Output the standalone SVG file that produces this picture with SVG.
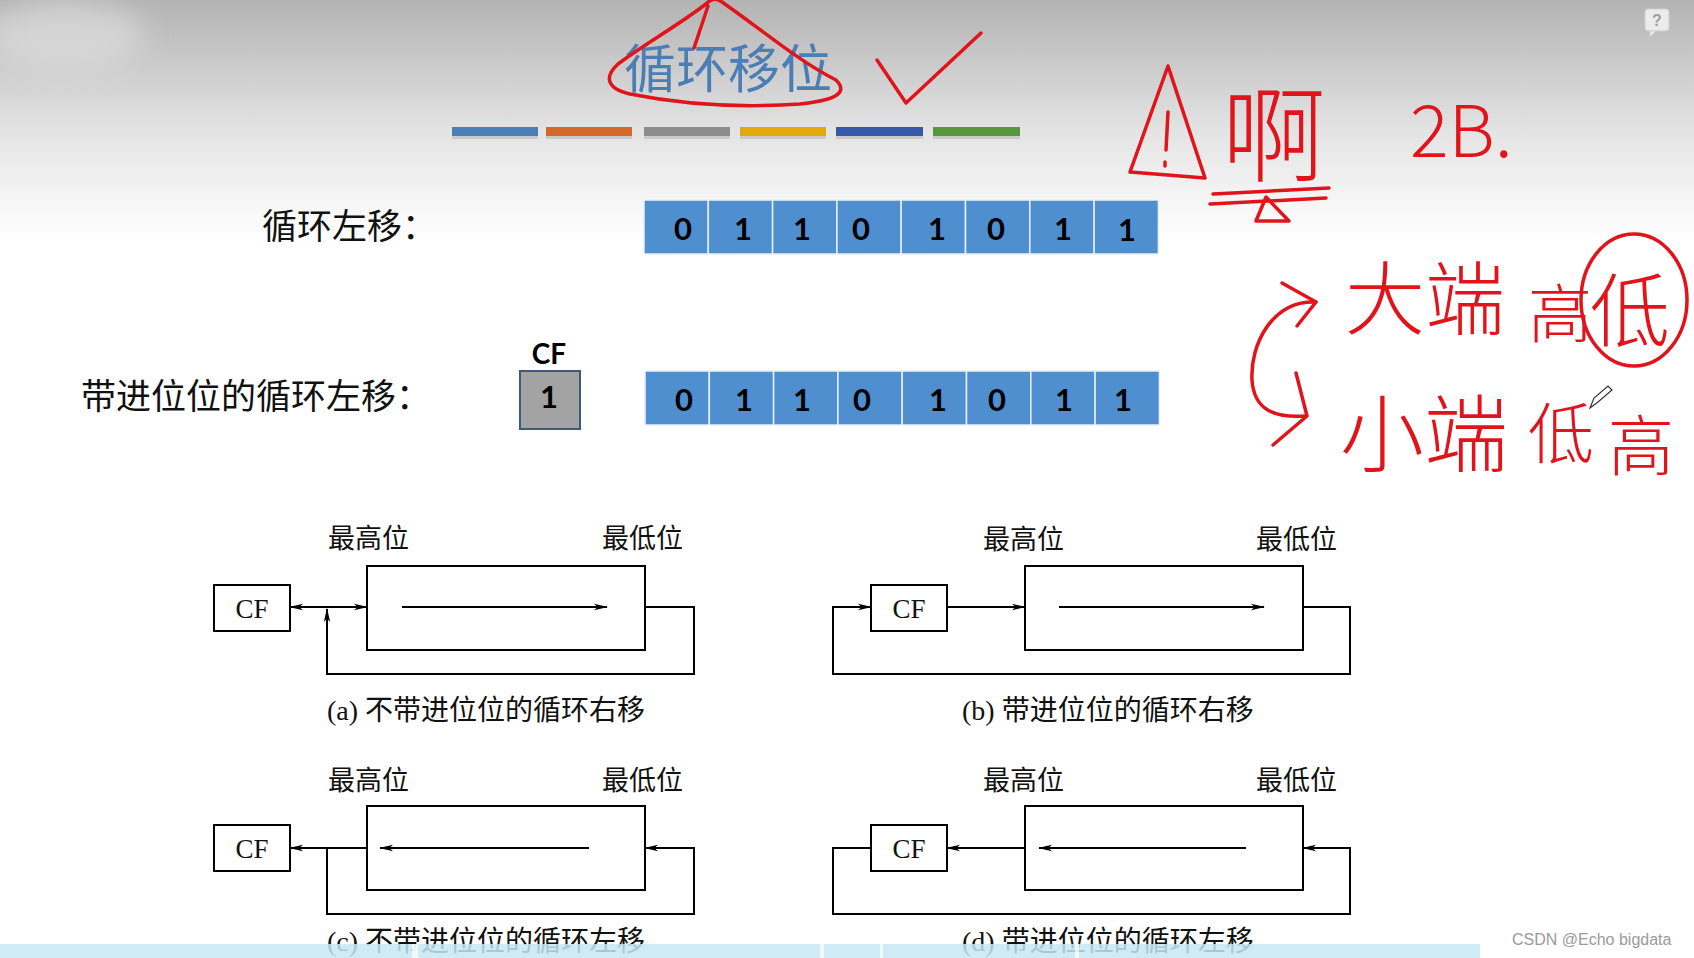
<svg xmlns="http://www.w3.org/2000/svg" width="1694" height="958" viewBox="0 0 1694 958">
<defs>
<linearGradient id="bg" x1="0" y1="0" x2="0" y2="1" gradientUnits="objectBoundingBox">
<stop offset="0" stop-color="#b3b3b3"/>
<stop offset="0.55" stop-color="#e4e4e4"/>
<stop offset="1" stop-color="#ffffff"/>
</linearGradient>
<filter id="blur" x="-50%" y="-50%" width="200%" height="200%"><feGaussianBlur stdDeviation="14"/></filter>
<marker id="ah" viewBox="0 0 14 8" markerWidth="14" markerHeight="8" refX="13" refY="4" orient="auto-start-reverse" markerUnits="userSpaceOnUse">
<path d="M0,0.8 L14,4 L0,7.2 L3.5,4 Z" fill="#000"/>
</marker>
<style>
.lbl{font-family:"Noto Sans CJK SC",sans-serif;font-size:35px;fill:#111}
.bit{fill:#4f8fd0;stroke:#e8f0f8;stroke-width:1.5}
.dig{font-family:Lato,"Liberation Sans",sans-serif;font-weight:700;font-size:31px;fill:#000;text-anchor:middle;dominant-baseline:central}
.box{fill:#fff;stroke:#000;stroke-width:2}
.ser{font-family:"Liberation Serif","Noto Sans CJK SC",serif;fill:#111}
.cap{font-size:28px}
.pos{font-size:27px}
.cf{font-size:27px;text-anchor:middle;dominant-baseline:central}
.ln{fill:none;stroke:#000;stroke-width:2}
.arr{marker-end:url(#ah)}
.red{fill:none;stroke:#e0141a;stroke-width:3.5;stroke-linecap:round;stroke-linejoin:round}
.hw{font-family:"Noto Sans CJK SC",sans-serif;font-weight:300;fill:#e0141a}
</style>
</defs>

<!-- background -->
<rect x="0" y="0" width="1694" height="240" fill="url(#bg)"/>
<rect x="0" y="240" width="1694" height="718" fill="#fff"/>
<ellipse cx="65" cy="35" rx="80" ry="35" fill="#e2e2e2" opacity="0.6" filter="url(#blur)"/>

<!-- title -->
<g id="title">
<text x="624" y="88" font-family="Noto Sans CJK SC,sans-serif" font-size="52" fill="#4a7eb4">循环移位</text>
<g id="bars">
<rect x="452" y="129" width="86" height="10" fill="#999" opacity="0.35"/>
<rect x="452" y="127" width="86" height="9" fill="#4a80b8"/>
<rect x="546" y="129" width="86" height="10" fill="#999" opacity="0.35"/>
<rect x="546" y="127" width="86" height="9" fill="#d4692a"/>
<rect x="644" y="129" width="86" height="10" fill="#999" opacity="0.35"/>
<rect x="644" y="127" width="86" height="9" fill="#8c8c8c"/>
<rect x="740" y="129" width="86" height="10" fill="#999" opacity="0.35"/>
<rect x="740" y="127" width="86" height="9" fill="#e2a80c"/>
<rect x="836" y="129" width="87" height="10" fill="#999" opacity="0.35"/>
<rect x="836" y="127" width="87" height="9" fill="#3459a8"/>
<rect x="933" y="129" width="87" height="10" fill="#999" opacity="0.35"/>
<rect x="933" y="127" width="87" height="9" fill="#5a973c"/>
</g>
</g>

<!-- row 1 -->
<g id="row1">
<text class="lbl" x="262" y="239">循环左移：</text>
<rect class="bit" x="644" y="200" width="64.3" height="54"/>
<rect class="bit" x="708.3" y="200" width="64.3" height="54"/>
<rect class="bit" x="772.6" y="200" width="64.3" height="54"/>
<rect class="bit" x="836.9" y="200" width="64.3" height="54"/>
<rect class="bit" x="901.2" y="200" width="64.3" height="54"/>
<rect class="bit" x="965.5" y="200" width="64.3" height="54"/>
<rect class="bit" x="1029.8" y="200" width="64.3" height="54"/>
<rect class="bit" x="1094.1" y="200" width="64.3" height="54"/>
<text class="dig" x="683" y="228">0</text>
<text class="dig" x="743" y="228">1</text>
<text class="dig" x="802" y="228">1</text>
<text class="dig" x="861" y="228">0</text>
<text class="dig" x="937" y="228">1</text>
<text class="dig" x="996" y="228">0</text>
<text class="dig" x="1063" y="228">1</text>
<text class="dig" x="1127" y="229">1</text>
</g>

<!-- row 2 -->
<g id="row2">
<text class="lbl" x="81" y="409">带进位位的循环左移：</text>
<text x="549" y="353" font-family="Lato,'Liberation Sans',sans-serif" font-size="28" font-weight="700" fill="#000" text-anchor="middle" dominant-baseline="central">CF</text>
<rect x="520" y="371" width="60" height="58" fill="#a3a3a3" stroke="#3e5a78" stroke-width="2"/>
<text class="dig" x="549" y="396">1</text>
<rect class="bit" x="645" y="371" width="64.3" height="54"/>
<rect class="bit" x="709.3" y="371" width="64.3" height="54"/>
<rect class="bit" x="773.6" y="371" width="64.3" height="54"/>
<rect class="bit" x="837.9" y="371" width="64.3" height="54"/>
<rect class="bit" x="902.2" y="371" width="64.3" height="54"/>
<rect class="bit" x="966.5" y="371" width="64.3" height="54"/>
<rect class="bit" x="1030.8" y="371" width="64.3" height="54"/>
<rect class="bit" x="1095.1" y="371" width="64.3" height="54"/>
<text class="dig" x="684" y="399">0</text>
<text class="dig" x="744" y="399">1</text>
<text class="dig" x="802" y="399">1</text>
<text class="dig" x="862" y="399">0</text>
<text class="dig" x="938" y="399">1</text>
<text class="dig" x="997" y="399">0</text>
<text class="dig" x="1064" y="399">1</text>
<text class="dig" x="1123" y="399">1</text>
</g>

<!-- diagram nodes -->
<g id="diagA">
<text class="ser pos" x="328" y="548">最高位</text>
<text class="ser pos" x="602" y="548">最低位</text>
<g id="a-cf"><rect class="box" x="214" y="585" width="76" height="46"/><text class="ser cf" x="252" y="609">CF</text></g>
<g id="a-reg"><rect class="box" x="367" y="566" width="278" height="84"/></g>
<text class="ser cap" x="327" y="720">(a) 不带进位位的循环右移</text>
</g>
<g id="diagB">
<text class="ser pos" x="983" y="549">最高位</text>
<text class="ser pos" x="1256" y="549">最低位</text>
<g id="b-cf"><rect class="box" x="871" y="585" width="76" height="46"/><text class="ser cf" x="909" y="609">CF</text></g>
<g id="b-reg"><rect class="box" x="1025" y="566" width="278" height="84"/></g>
<text class="ser cap" x="962" y="720">(b) 带进位位的循环右移</text>
</g>
<g id="diagC">
<text class="ser pos" x="328" y="790">最高位</text>
<text class="ser pos" x="602" y="790">最低位</text>
<g id="c-cf"><rect class="box" x="214" y="825" width="76" height="46"/><text class="ser cf" x="252" y="849">CF</text></g>
<g id="c-reg"><rect class="box" x="367" y="806" width="278" height="84"/></g>
<text class="ser cap" x="327" y="951">(c) 不带进位位的循环左移</text>
</g>
<g id="diagD">
<text class="ser pos" x="983" y="790">最高位</text>
<text class="ser pos" x="1256" y="790">最低位</text>
<g id="d-cf"><rect class="box" x="871" y="825" width="76" height="46"/><text class="ser cf" x="909" y="849">CF</text></g>
<g id="d-reg"><rect class="box" x="1025" y="806" width="278" height="84"/></g>
<text class="ser cap" x="962" y="951">(d) 带进位位的循环左移</text>
</g>

<!-- connectors -->
<g id="connectors">
<path class="ln" d="M290,607 H367" marker-start="url(#ah)" marker-end="url(#ah)"/>
<path class="ln arr" d="M402,607 H607"/>
<path class="ln arr" d="M645,607 H694 V674 H327 V609"/>

<path class="ln arr" d="M947,607 H1025"/>
<path class="ln arr" d="M1059,607 H1264"/>
<path class="ln arr" d="M1303,607 H1350 V674 H833 V607 H871"/>

<path class="ln arr" d="M367,848 H290"/>
<path class="ln arr" d="M589,848 H380"/>
<path class="ln arr" d="M327,848 V914 H694 V848 H645"/>

<path class="ln arr" d="M1025,848 H947"/>
<path class="ln arr" d="M1246,848 H1039"/>
<path class="ln arr" d="M871,848 H833 V914 H1350 V848 H1303"/>
</g>

<!-- bottom band -->
<g id="band">
<rect x="0" y="944" width="1480" height="14" fill="#c6e7f4" opacity="0.85"/>
<rect x="412" y="944" width="6" height="14" fill="#fff" opacity="0.7"/>
<rect x="820" y="944" width="4" height="14" fill="#fff" opacity="0.7"/>
<rect x="880" y="944" width="3" height="14" fill="#fff" opacity="0.7"/>
<rect x="1075" y="944" width="4" height="14" fill="#fff" opacity="0.7"/>
</g>
<text x="1512" y="945" font-family="'Liberation Sans',sans-serif" font-size="16" fill="#9a9a9a">CSDN @Echo bigdata</text>

<!-- help icon -->
<g id="help">
<rect x="1645" y="9" width="24" height="22" rx="3" fill="#ececec" stroke="#cfcfcf"/>
<path d="M1650,31 L1650,37 L1656,31 Z" fill="#ececec" stroke="#cfcfcf"/>
<text x="1657" y="26" font-family="'Liberation Sans',sans-serif" font-size="16" font-weight="700" fill="#a0a0a0" text-anchor="middle">?</text>
</g>

<!-- red annotations -->
<g id="annotations">
<path class="red" d="M706,4 C712,-2 716,-2 722,2 C762,30 800,62 836,80 C848,92 838,100 800,104 C740,108 680,104 630,94 C605,88 605,76 618,64 C645,44 680,24 706,4 Z"/>
<path class="red" d="M694,48 L708,6"/>
<path class="red" d="M877,60 L906,103 L981,33"/>
<path class="red" d="M1168,66 L1130,172 L1205,178 Z"/>
<path class="red" d="M1168,112 L1166,150"/>
<path class="red" d="M1165,162 L1165,166"/>
<text class="hw" x="1222" y="174" font-size="104">啊</text>
<path class="red" d="M1213,194 L1329,188"/>
<path class="red" d="M1210,204 L1326,198"/>
<path class="red" d="M1266,197 L1256,221 L1289,221 Z"/>
<text class="hw" x="1410" y="157" font-size="72">2B.</text>
<path class="red" d="M1282,283 L1316,302 L1297,326"/>
<path class="red" d="M1316,302 C1272,300 1250,345 1252,380 C1254,410 1274,418 1306,416"/>
<path class="red" d="M1296,373 L1307,416 L1273,445"/>
<text class="hw" x="1345" y="328" font-size="80">大端</text>
<text class="hw" x="1528" y="337" font-size="64">高</text>
<text class="hw" x="1590" y="340" font-size="80">低</text>
<ellipse class="red" cx="1634" cy="300" rx="53" ry="66"/>
<text class="hw" x="1340" y="465" font-size="84">小端</text>
<text class="hw" x="1528" y="458" font-size="66">低</text>
<text class="hw" x="1608" y="470" font-size="66">高</text>
<path d="M1590,408 L1594,398 L1608,386 L1612,390 L1598,402 Z" fill="#fff" stroke="#333" stroke-width="1.2"/>
</g>
</svg>
